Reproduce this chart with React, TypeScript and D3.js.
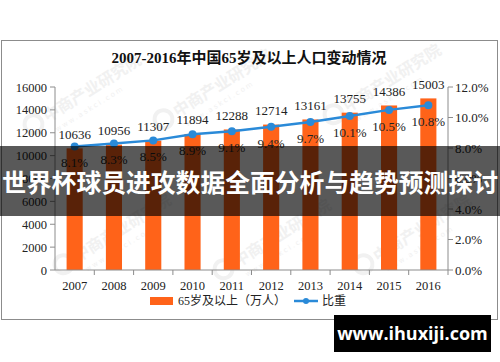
import React from 'react';
import * as d3 from 'd3';

const years = ['2007', '2008', '2009', '2010', '2011', '2012', '2013', '2014', '2015', '2016'];
const population = [10636, 10956, 11307, 11894, 12288, 12714, 13161, 13755, 14386, 15003];
const share = [8.1, 8.3, 8.5, 8.9, 9.1, 9.4, 9.7, 10.1, 10.5, 10.8];
const leftTicks = [0, 2000, 4000, 6000, 8000, 10000, 12000, 14000, 16000];
const rightTicks = [0, 2, 4, 6, 8, 10, 12];

const width = 500;
const height = 362;
const plotLeft = 55;
const plotRight = 448;
const plotTop = 87;
const plotBottom = 270;

const orange = '#ff6319';
const blue = '#2a8ad8';
const axisColor = '#8c8c8c';
const serif = '"Liberation Serif", "Noto Sans CJK SC", serif';

const x = d3.scaleBand<string>().domain(years).range([plotLeft, plotRight]).padding(0);
const yLeft = d3.scaleLinear().domain([0, 16000]).range([plotBottom, plotTop]);
const yRight = d3.scaleLinear().domain([0, 12]).range([plotBottom, plotTop]);

const barW = x.bandwidth() * 0.41;
const cx = (d: string) => (x(d) ?? 0) + x.bandwidth() / 2;

const line = d3
  .line<number>()
  .x((_, i) => cx(years[i]))
  .y((d) => yRight(d));

// faint background marks of the source site, kept inside the frame
const marks = [
  { x: 60, y: 110 },
  { x: 190, y: 105 },
  { x: 360, y: 100 },
  { x: 90, y: 250 },
  { x: 250, y: 255 },
  { x: 390, y: 250 },
];

export default function App() {
  return (
    <svg
      width={width}
      height={height}
      style={{ position: 'absolute', left: 0, top: 0, background: '#fff' }}
    >
      <rect x={1.5} y={40.5} width={496} height={279} fill="#fff" stroke={axisColor} />

      {marks.map((m, i) => (
        <g key={i} transform={`translate(${m.x},${m.y}) rotate(-32)`} fill="#f1f1f1">
          <circle cx={-30} cy={-2} r={9} fill="none" stroke="#f1f1f1" strokeWidth={4} />
          <text x={-17} y={4} fontSize={16} fontWeight="bold" fontFamily='"Noto Sans CJK SC", sans-serif'>
            中商产业研究院
          </text>
          <text x={-14} y={17} fontSize={7} letterSpacing={2} fontFamily='"DejaVu Sans", sans-serif'>
            www.askci.com
          </text>
        </g>
      ))}

      <text
        x={249}
        y={63}
        textAnchor="middle"
        fontSize={15}
        fontWeight="bold"
        fontFamily={serif}
        fill="#111"
      >
        2007-2016年中国65岁及以上人口变动情况
      </text>

      {/* bars */}
      {years.map((d, i) => (
        <rect
          key={d}
          x={cx(d) - barW / 2}
          y={yLeft(population[i])}
          width={barW}
          height={plotBottom - yLeft(population[i])}
          fill={orange}
        />
      ))}

      {/* left axis */}
      <line x1={plotLeft} x2={plotLeft} y1={plotTop} y2={plotBottom} stroke={axisColor} />
      {leftTicks.map((t) => (
        <g key={t}>
          <line x1={plotLeft - 5} x2={plotLeft} y1={yLeft(t)} y2={yLeft(t)} stroke={axisColor} />
          <text
            x={plotLeft - 8}
            y={yLeft(t) + 4.5}
            textAnchor="end"
            fontSize={12.5}
            fontFamily={serif}
            fill="#222"
          >
            {t}
          </text>
        </g>
      ))}

      {/* right axis */}
      <line x1={plotRight} x2={plotRight} y1={plotTop} y2={plotBottom} stroke={axisColor} />
      {rightTicks.map((t) => (
        <g key={t}>
          <line x1={plotRight} x2={plotRight + 5} y1={yRight(t)} y2={yRight(t)} stroke={axisColor} />
          <text x={plotRight + 7} y={yRight(t) + 4.5} fontSize={13} fontFamily={serif} fill="#222">
            {t.toFixed(1)}%
          </text>
        </g>
      ))}

      {/* x axis */}
      <line x1={plotLeft} x2={plotRight} y1={plotBottom} y2={plotBottom} stroke={axisColor} />
      {years.map((d) => (
        <g key={d}>
          <line
            x1={(x(d) ?? 0) + x.bandwidth()}
            x2={(x(d) ?? 0) + x.bandwidth()}
            y1={plotBottom}
            y2={plotBottom + 5}
            stroke={axisColor}
          />
          <text x={cx(d)} y={290} textAnchor="middle" fontSize={12.5} fontFamily={serif} fill="#222">
            {d}
          </text>
        </g>
      ))}

      {/* line series */}
      <path d={line(share) ?? ''} fill="none" stroke={blue} strokeWidth={2.5} />
      {share.map((v, i) => (
        <circle key={i} cx={cx(years[i])} cy={yRight(v)} r={4} fill={blue} />
      ))}

      {/* value labels */}
      {population.map((v, i) => (
        <text
          key={i}
          x={cx(years[i])}
          y={yLeft(v) - 9.5}
          textAnchor="middle"
          fontSize={13}
          fontFamily={serif}
          fill="#222"
        >
          {v}
        </text>
      ))}
      {share.map((v, i) => (
        <text
          key={i}
          x={cx(years[i])}
          y={yRight(v) + 21}
          textAnchor="middle"
          fontSize={13}
          fontFamily={serif}
          fill="#222"
        >
          {v.toFixed(1)}%
        </text>
      ))}

      {/* legend */}
      <rect x={150} y={297} width={23} height={8} fill={orange} />
      <text x={178} y={305} fontSize={12} fontFamily={serif} fill="#222">
        65岁及以上（万人）
      </text>
      <line x1={294} x2={318} y1={301} y2={301} stroke={blue} strokeWidth={2.5} />
      <circle cx={306} cy={301} r={3} fill={blue} />
      <text x={322} y={305} fontSize={12} fontFamily={serif} fill="#222">
        比重
      </text>

      {/* overlay banner */}
      <rect x={0} y={146} width={width} height={70} fill="rgba(0,0,0,0.65)" />
      <text
        x={250}
        y={192}
        textAnchor="middle"
        fontSize={24.8}
        fontWeight="bold"
        fontFamily='"Noto Sans CJK SC", sans-serif'
        fill="#fff"
      >
        世界杯球员进攻数据全面分析与趋势预测探讨
      </text>

      {/* site mark */}
      <rect x={334} y={315} width={157} height={37} fill="#000" />
      <text
        x={412.5}
        y={340}
        textAnchor="middle"
        fontSize={18}
        fontWeight="bold"
        fontFamily='"Open Sans", "DejaVu Sans", sans-serif'
        fill="#fff"
      >
        www.ihuxiji.com
      </text>
    </svg>
  );
}
